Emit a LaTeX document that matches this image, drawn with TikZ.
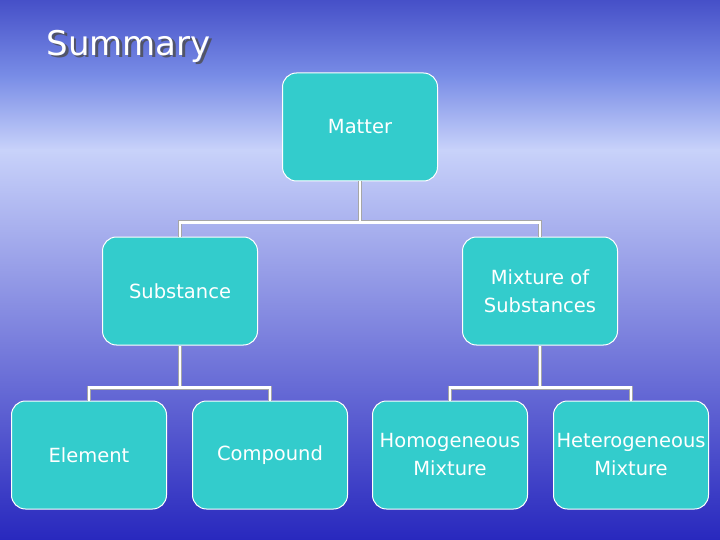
\documentclass[tikz,border=0pt]{standalone}
\usepackage{fontspec}
\setmainfont{DejaVu Sans}
\begin{document}
\begin{tikzpicture}[x=1pt,y=-1pt,
 box/.style={draw=white,line width=1pt,fill={rgb,255:red,51;green,204;blue,204},rounded corners=14pt,minimum width=155pt,minimum height=108pt,inner sep=0pt,align=center,text=white,font=\fontsize{19.5}{28}\selectfont},
 conn/.style={draw=gray!70,line width=4pt},
 connw/.style={draw=white,line width=2.2pt}]
\shade[top color={rgb,255:red,70;green,80;blue,200},bottom color={rgb,255:red,200;green,210;blue,250},middle color={rgb,255:red,120;green,140;blue,230}] (0,0) rectangle (720,150);
\shade[top color={rgb,255:red,200;green,210;blue,250},bottom color={rgb,255:red,40;green,40;blue,190}] (0,150) rectangle (720,540);
\useasboundingbox (0,0) rectangle (720,540);
\node[anchor=west,text=gray!60!black,font=\fontsize{34}{40}\selectfont,opacity=0.8] at (45.5,48) {Summary};
\node[anchor=west,text=white,font=\fontsize{34}{40}\selectfont] (title) at (43,46) {Summary};
\node[box] (matter) at (360,127) {Matter};
\node[box] (sub) at (180,291) {Substance};
\node[box] (mix) at (540,291) {Mixture of\\ Substances};
\node[box] (el) at (89,455) {Element};
\node[box] (co) at (270,455) {Compound};
\node[box] (ho) at (450,455) {Homogeneous\\Mixture};
\node[box] (he) at (631,455) {Heterogeneous\\Mixture};
\foreach \s in {conn,connw}{
 \draw[\s] (matter.south) -- ++(0,41) -| (sub.north);
 \draw[\s] (matter.south) ++(0,41) -| (mix.north);
 \draw[\s] (sub.south) -- ++(0,42) -| (el.north);
 \draw[\s] (sub.south) ++(0,42) -| (co.north);
 \draw[\s] (mix.south) -- ++(0,42) -| (ho.north);
 \draw[\s] (mix.south) ++(0,42) -| (he.north);
}
\end{tikzpicture}
\end{document}
